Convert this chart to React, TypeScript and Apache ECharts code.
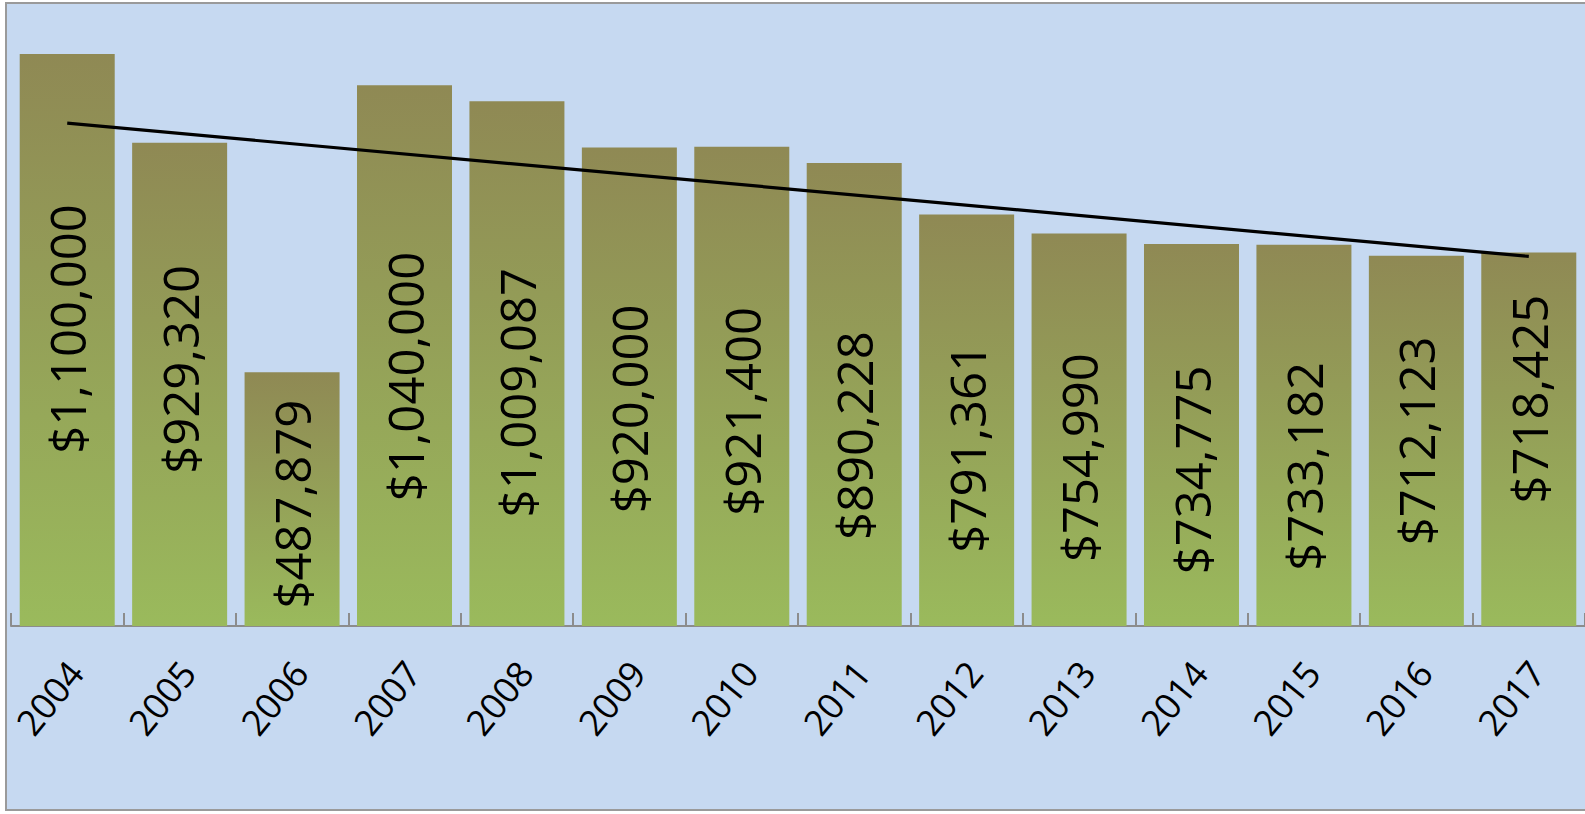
import React, { useEffect, useRef } from "react";
import * as echarts from "echarts";

const years = ["2004", "2005", "2006", "2007", "2008", "2009", "2010", "2011", "2012", "2013", "2014", "2015", "2016", "2017"];
const amounts = [1100000, 929320, 487879, 1040000, 1009087, 920000, 921400, 890228, 791361, 754990, 734775, 733182, 712123, 718425];
// linear trend line end points
const trendStart = 966900;
const trendEnd = 710700;

export default function App() {
  const ref = useRef<HTMLDivElement>(null);
  useEffect(() => {
    if (!ref.current) return;
    const chart = echarts.init(ref.current, undefined, { renderer: "svg" });
    // vertical shift (px, downward on screen) of each value label inside its bar
    const labelShift = [-11, -15, 5, 21, 29, 22, 25, 41, 28, 28, 35, 31, 0, -40];
    const barData = amounts.map((v, i) => ({
      value: v,
      // label is rotated 90deg, so its local x axis points up on screen
      label: { offset: [-labelShift[i], 0] },
    }));
    chart.setOption({
      animation: false,
      backgroundColor: "#ffffff",
      graphic: [
        {
          type: "rect",
          z: -10,
          silent: true,
          shape: { x: 6, y: 3, width: 1600, height: 807 },
          style: { fill: "#c6d9f1", stroke: "#9a9a9a", lineWidth: 2 },
        },
      ],
      grid: { left: 11, right: 0, top: 2, bottom: 188, containLabel: false },
      xAxis: {
        type: "category",
        data: years,
        axisLine: { show: true, lineStyle: { color: "#8c8c8c", width: 2 } },
        axisTick: { show: true, inside: true, length: 13, lineStyle: { color: "#8c8c8c", width: 2 } },
        axisLabel: {
          rotate: 51,
          margin: 50,
          padding: [0, -13, 0, 0],
          fontSize: 36,
          fontFamily: "Open Sans",
          color: "#000000",
          interval: 0,
        },
      },
      yAxis: {
        type: "value",
        min: 0,
        max: 1200000,
        show: false,
        splitLine: { show: false },
      },
      series: [
        {
          type: "bar",
          data: barData,
          barCategoryGap: "15.5%",
          itemStyle: {
            color: new echarts.graphic.LinearGradient(0, 0, 0, 1, [
              { offset: 0, color: "#8f8954" },
              { offset: 1, color: "#9aba5c" },
            ]),
          },
          label: {
            show: true,
            position: "inside",
            rotate: 90,
            fontSize: 49,
            fontFamily: "Open Sans",
            color: "#000000",
            formatter: (p: any) => "$" + Number(p.value).toLocaleString("en-US"),
          },
        },
        {
          type: "line",
          data: [
            [0, trendStart],
            [13, trendEnd],
          ],
          symbol: "none",
          lineStyle: { color: "#000000", width: 3.2 },
          z: 5,
        },
      ],
    });
    return () => chart.dispose();
  }, []);
  return (
    <div
      ref={ref}
      style={{ position: "fixed", left: 0, top: 0, width: 1585, height: 814 }}
    />
  );
}
